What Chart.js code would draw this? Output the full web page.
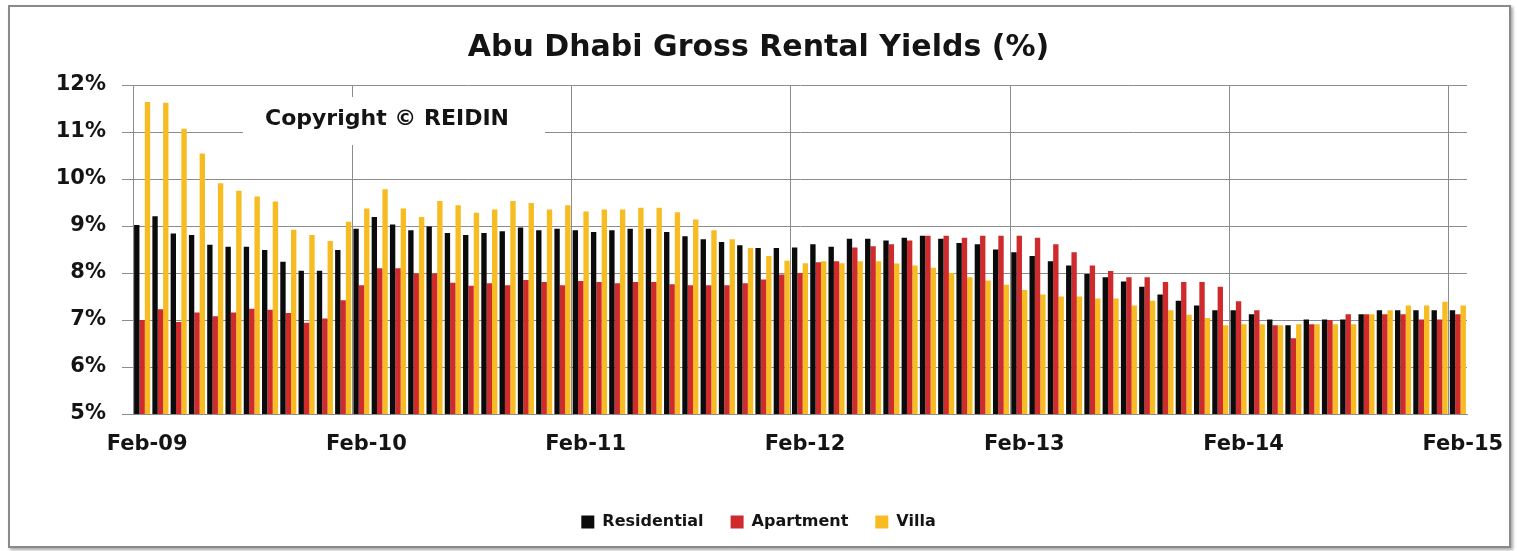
<!DOCTYPE html>
<html>
<head>
<meta charset="utf-8">
<title>Abu Dhabi Gross Rental Yields (%)</title>
<script src="https://cdn.jsdelivr.net/npm/chart.js@4.4.1/dist/chart.umd.min.js"></script>
<style>
  html, body { margin: 0; padding: 0; background: #fff; }
  #frame {
    position: absolute; left: 8px; top: 5px; width: 1499px; height: 539px;
    border: 2px solid #8a8a8a; box-shadow: 2px 2px 3px rgba(0,0,0,0.35);
  }
  #yieldChart { position: absolute; left: 0; top: 0; }
</style>
</head>
<body>
<div id="frame"></div>
<canvas id="yieldChart" width="1517" height="551"></canvas>
<script>
// Bulan (Feb-09 .. Feb-15)
const months = [
  'Feb-09','Mar-09','Apr-09','May-09','Jun-09','Jul-09','Aug-09','Sep-09','Oct-09','Nov-09','Dec-09','Jan-10',
  'Feb-10','Mar-10','Apr-10','May-10','Jun-10','Jul-10','Aug-10','Sep-10','Oct-10','Nov-10','Dec-10','Jan-11',
  'Feb-11','Mar-11','Apr-11','May-11','Jun-11','Jul-11','Aug-11','Sep-11','Oct-11','Nov-11','Dec-11','Jan-12',
  'Feb-12','Mar-12','Apr-12','May-12','Jun-12','Jul-12','Aug-12','Sep-12','Oct-12','Nov-12','Dec-12','Jan-13',
  'Feb-13','Mar-13','Apr-13','May-13','Jun-13','Jul-13','Aug-13','Sep-13','Oct-13','Nov-13','Dec-13','Jan-14',
  'Feb-14','Mar-14','Apr-14','May-14','Jun-14','Jul-14','Aug-14','Sep-14','Oct-14','Nov-14','Dec-14','Jan-15',
  'Feb-15'
];

const residential = [
  9.02, 9.21, 8.84, 8.81, 8.60, 8.56, 8.56, 8.49, 8.24, 8.05, 8.05, 8.49,
  8.94, 9.19, 9.03, 8.91, 8.99, 8.85, 8.81, 8.85, 8.89, 8.97, 8.91, 8.94,
  8.91, 8.87, 8.91, 8.94, 8.94, 8.87, 8.78, 8.72, 8.66, 8.59, 8.53, 8.53,
  8.54, 8.61, 8.56, 8.73, 8.73, 8.69, 8.75, 8.79, 8.73, 8.64, 8.61, 8.50,
  8.44, 8.36, 8.25, 8.16, 7.98, 7.91, 7.82, 7.71, 7.54, 7.41, 7.31, 7.21,
  7.21, 7.12, 7.01, 6.89, 7.01, 7.01, 7.01, 7.12, 7.21, 7.21, 7.21, 7.21,
  7.21
];

const apartment = [
  7.00, 7.23, 6.96, 7.16, 7.08, 7.16, 7.24, 7.22, 7.15, 6.94, 7.03, 7.42,
  7.74, 8.10, 8.10, 7.99, 7.99, 7.79, 7.73, 7.78, 7.74, 7.85, 7.81, 7.74,
  7.83, 7.81, 7.78, 7.81, 7.81, 7.76, 7.74, 7.74, 7.74, 7.78, 7.86, 7.97,
  8.00, 8.23, 8.25, 8.54, 8.57, 8.61, 8.69, 8.79, 8.79, 8.75, 8.79, 8.79,
  8.79, 8.75, 8.61, 8.44, 8.16, 8.04, 7.91, 7.91, 7.81, 7.81, 7.81, 7.71,
  7.40, 7.21, 6.89, 6.61, 6.91, 7.00, 7.12, 7.12, 7.12, 7.12, 7.01, 7.01,
  7.12
];

const villa = [
  11.64, 11.62, 11.07, 10.54, 9.91, 9.75, 9.63, 9.52, 8.92, 8.81, 8.68, 9.09,
  9.37, 9.78, 9.37, 9.19, 9.53, 9.44, 9.28, 9.35, 9.53, 9.49, 9.35, 9.44,
  9.31, 9.35, 9.35, 9.39, 9.39, 9.29, 9.14, 8.91, 8.72, 8.53, 8.36, 8.26,
  8.21, 8.25, 8.21, 8.25, 8.25, 8.20, 8.16, 8.11, 8.00, 7.91, 7.84, 7.75,
  7.64, 7.54, 7.50, 7.50, 7.46, 7.46, 7.31, 7.41, 7.21, 7.11, 7.04, 6.89,
  6.91, 6.91, 6.89, 6.91, 6.91, 6.91, 6.91, 7.12, 7.21, 7.31, 7.31, 7.39,
  7.31
];

const yMin = 5;
const yMax = 12;

document.addEventListener("DOMContentLoaded", () => {
  const FONT = "'DejaVu Sans', 'Open Sans', sans-serif";
  const GRID = '#8c8c8c';

  // kotak copyright di pojok kiri atas
  const copyrightBox = {
    id: 'copyrightBox',
    afterDraw(chart) {
      const ctx = chart.ctx;
      ctx.save();
      ctx.fillStyle = '#fff';
      ctx.fillRect(243, 97, 302, 48);
      ctx.fillStyle = '#141414';
      ctx.font = "bold 22px " + FONT;
      ctx.textBaseline = 'middle';
      ctx.fillText('Copyright \u00A9 REIDIN', 265, 119);
      ctx.restore();
    }
  };

  const canvas = document.getElementById('yieldChart');
  if (!canvas) {
    console.warn('Canvas yieldChart tidak ditemukan.');
    return;
  }

  new Chart(canvas.getContext('2d'), {
    type: 'bar',
    data: {
      labels: months,
      datasets: [
        { label: 'Residential', data: residential, backgroundColor: '#0b0b0b', borderWidth: 0 },
        { label: 'Apartment', data: apartment, backgroundColor: '#cf2b2d', borderWidth: 0 },
        { label: 'Villa', data: villa, backgroundColor: '#f7bc22', borderWidth: 0 }
      ]
    },
    options: {
      responsive: false,
      animation: false,
      devicePixelRatio: 1,
      categoryPercentage: 0.88,
      barPercentage: 1.0,
      layout: { padding: { left: 0, right: 0, top: 0, bottom: 11 } },
      plugins: {
        title: {
          display: true,
          text: 'Abu Dhabi Gross Rental Yields (%)',
          color: '#141414',
          font: { family: FONT, size: 30, weight: 'bold' },
          padding: { top: 30, bottom: 19 }
        },
        legend: {
          display: true,
          position: 'bottom',
          labels: {
            color: '#141414',
            font: { family: FONT, size: 16, weight: 'bold' },
            boxWidth: 13,
            boxHeight: 13,
            padding: 27
          }
        },
        tooltip: { enabled: false }
      },
      scales: {
        x: {
          offset: true,
          grid: {
            offset: true,
            drawTicks: false,
            lineWidth: 1,
            color: (c) => (c.index > 0 && c.index < months.length && months[c.index].startsWith('Feb')) ? GRID : 'rgba(0,0,0,0)'
          },
          border: { display: true, color: GRID },
          ticks: {
            autoSkip: false,
            maxRotation: 0,
            minRotation: 0,
            padding: 18,
            labelOffset: 5,
            color: '#141414',
            font: { family: FONT, size: 21, weight: 'bold' },
            callback: (v, i) => months[i].startsWith('Feb') ? months[i] : ''
          },
          afterFit: (s) => { s.height = 73; }
        },
        y: {
          min: yMin,
          max: yMax,
          grid: { color: GRID, lineWidth: 1, tickLength: 11 },
          border: { display: true, color: GRID },
          ticks: {
            stepSize: 1,
            padding: 16,
            color: '#141414',
            font: { family: FONT, size: 21, weight: 'bold' },
            callback: (v) => v + '%'
          },
          afterFit: (s) => { s.width = 133; }
        },
        yRight: {
          position: 'right',
          display: true,
          grid: { display: false, drawTicks: false },
          border: { display: false },
          ticks: { display: false },
          afterFit: (s) => { s.width = 50; }
        }
      }
    },
    plugins: [copyrightBox]
  });
});
</script>
</body>
</html>
